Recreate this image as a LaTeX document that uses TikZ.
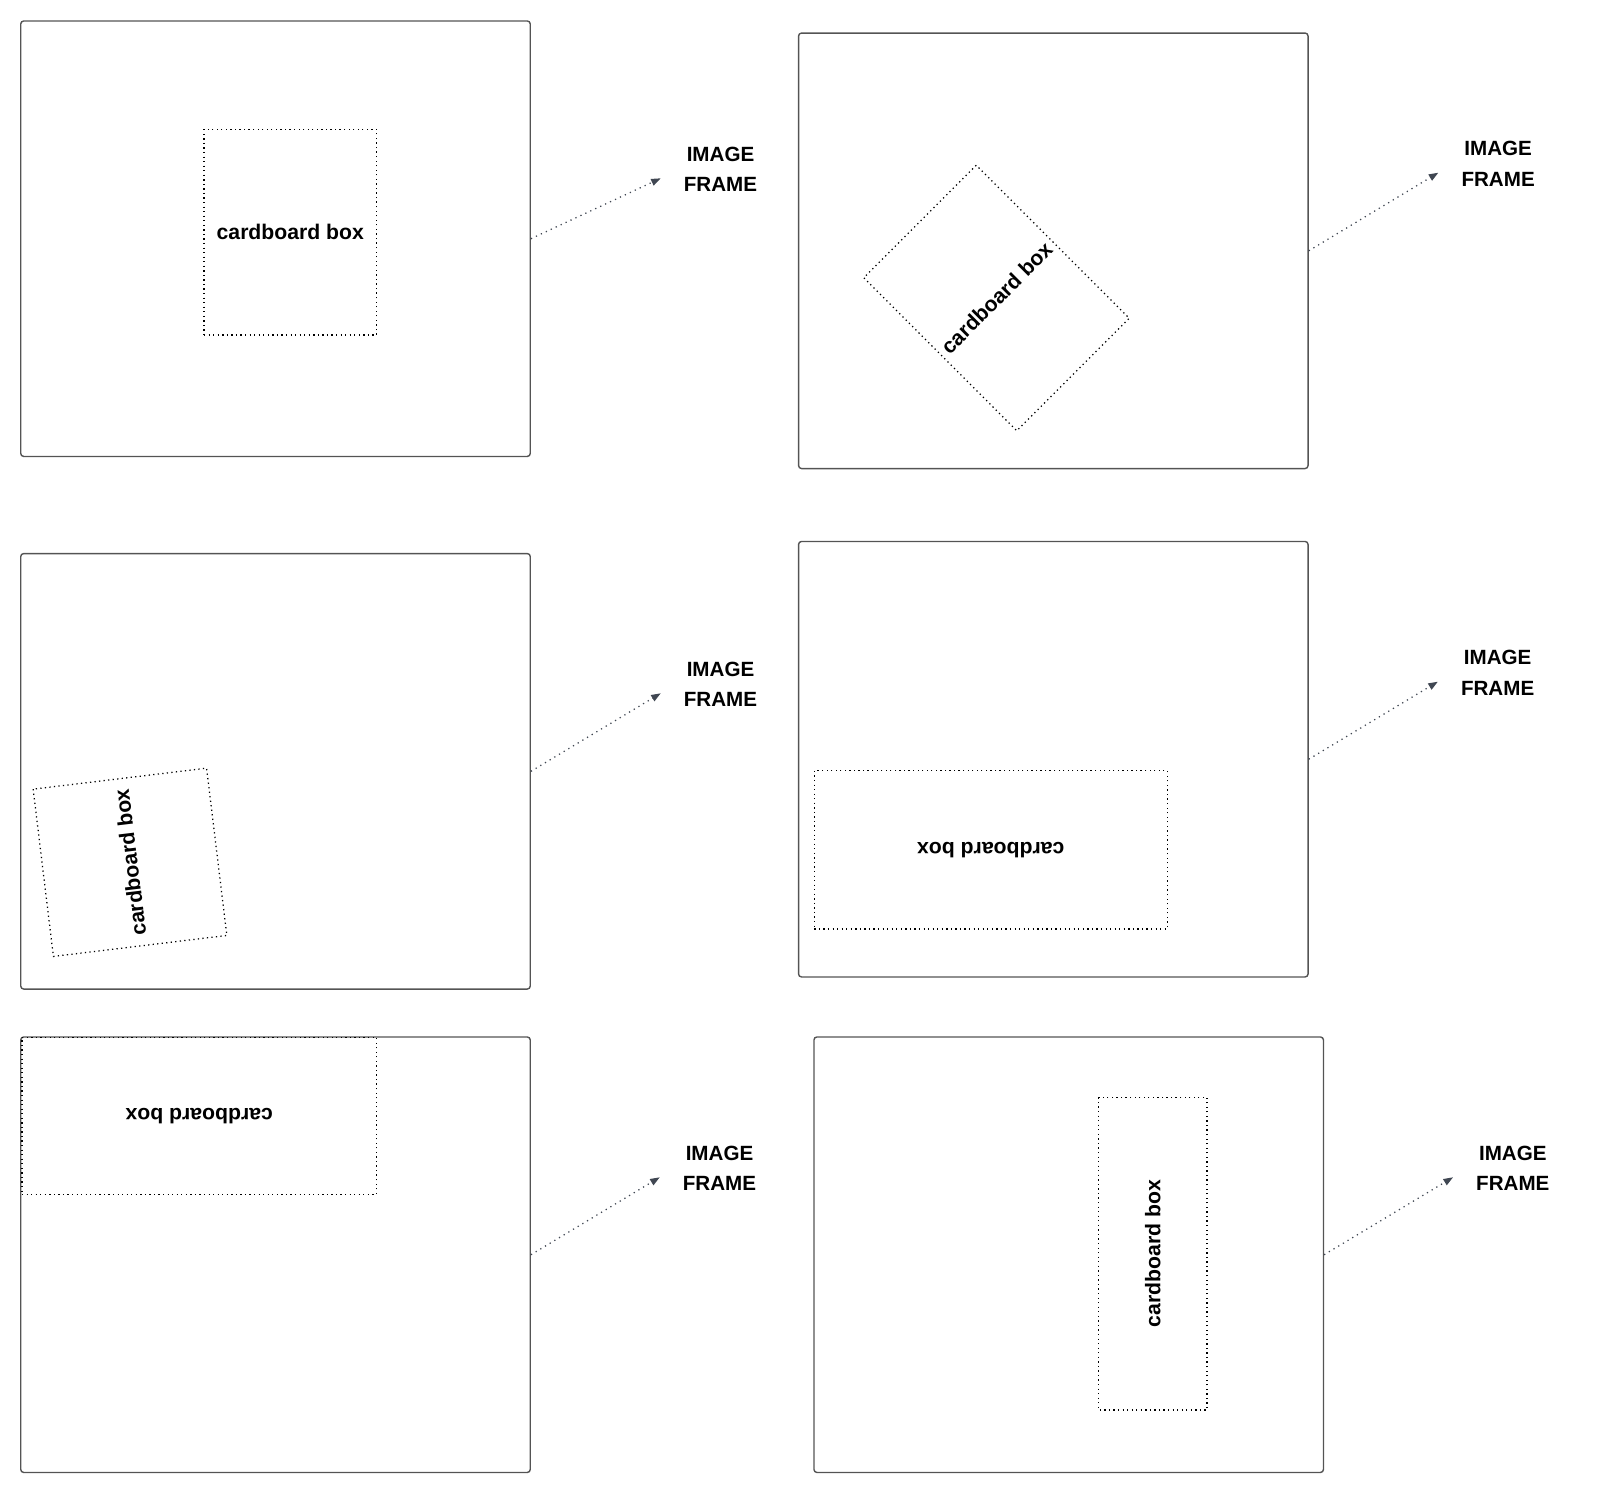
\documentclass[tikz,border=0pt]{standalone}
\usepackage{fontspec}
\setmainfont{Liberation Sans}
\usepackage{tikz}
\usetikzlibrary{arrows.meta,positioning}
\definecolor{framegray}{rgb}{.33,.33,.33}
\definecolor{arrowgray}{rgb}{.25,.28,.32}

\begin{document}
\begin{tikzpicture}[x=1pt,y=1pt,% one unit is one pixel of the sheet
					every node/.style={
						align=center,		% so that the "\\" of the labels breaks the line
						font=\bfseries\fontsize{21.2}{25}\selectfont
						},
					frame/.style={rectangle,draw=framegray,line width=1.4pt,rounded corners=3pt,
						minimum width=509.5pt,minimum height=435.5pt,inner sep=0pt},
					box/.style={rectangle,draw=black,line width=1.25pt,dash pattern=on 1.25pt off 3.3pt,inner sep=0pt},
					lbl/.style={inner sep=0pt,font=\bfseries\fontsize{20.6}{30.7}\selectfont},
					every edge/.style={draw=arrowgray,line width=1.25pt,dash pattern=on 1.25pt off 4.2pt,
						-{Triangle[length=9.5pt,width=7pt]}}
					]
\useasboundingbox (0,0) rectangle (1600,-1494);
% image frames
\node[frame](F1) at (275.5,-238.7) {};
\node[frame](F2) at (1053.3,-250.8) {};
\node[frame](F3) at (275.5,-771.3) {};
\node[frame](F4) at (1053.3,-759.2) {};
\node[frame](F5) at (275.5,-1254.7) {};
\node[frame](F6) at (1068.7,-1254.7) {};
% the box in each frame
\node[box,minimum width=172.5pt,minimum height=205.7pt](B1) at (290.3,-232.2) {cardboard box};
\node[box,rotate=45,minimum width=159pt,minimum height=216.4pt](B2) at (996.5,-298) {cardboard box};
\node[box,rotate=96.9,minimum width=168.5pt,minimum height=174.7pt](B3) at (130,-862.3) {cardboard box};
\node[box,rotate=180,minimum width=353pt,minimum height=158.3pt](B4) at (990.8,-849.8) {cardboard box};
\node[box,rotate=180,minimum width=354.5pt,minimum height=157pt](B5) at (199.2,-1115.8) {cardboard box};
\node[box,rotate=90,minimum width=312.7pt,minimum height=108.6pt](B6) at (1152.8,-1253.7) {cardboard box};
% arrow ends
\coordinate (T1) at (660.7,-178.3);
\coordinate (T2) at (1438.3,-172.7);
\coordinate (T3) at (660.7,-693.3);
\coordinate (T4) at (1437.8,-681.7);
\coordinate (T5) at (659.7,-1177.3);
\coordinate (T6) at (1453,-1177.3);
\node[lbl,right=23pt of T1,yshift=9pt](L1){IMAGE\\FRAME};
\node[lbl,right=23pt of T2,yshift=9pt](L2){IMAGE\\FRAME};
\node[lbl,right=23pt of T3,yshift=9pt](L3){IMAGE\\FRAME};
\node[lbl,right=23pt of T4,yshift=9pt](L4){IMAGE\\FRAME};
\node[lbl,right=23pt of T5,yshift=9pt](L5){IMAGE\\FRAME};
\node[lbl,right=23pt of T6,yshift=9pt](L6){IMAGE\\FRAME};
\path
(F1.east)edge (T1)
(F2.east)edge (T2)
(F3.east)edge (T3)
(F4.east)edge (T4)
(F5.east)edge (T5)
(F6.east)edge (T6)
;
\end{tikzpicture}
\end{document}
